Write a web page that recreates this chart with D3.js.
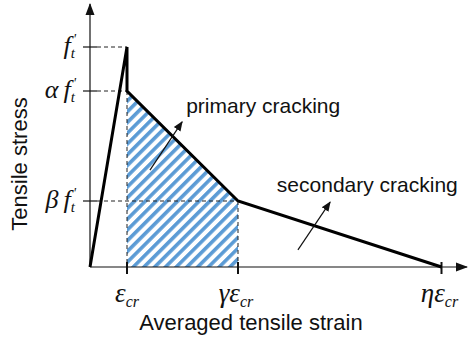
<!DOCTYPE html>
<html>
<head>
<meta charset="utf-8">
<script src="https://cdn.jsdelivr.net/npm/d3@7/dist/d3.min.js"></script>
<style>
  html, body { margin: 0; padding: 0; background: #fff; }
  svg { display: block; }
  .sans { font-family: "Liberation Sans", Arial, sans-serif; fill: #111; }
  .math { font-family: "Liberation Serif", "Times New Roman", serif; font-style: italic; fill: #111; }
</style>
</head>
<body>
<svg id="chart" width="468" height="340"></svg>
<script>
// Tension-softening curve: strain in multiples of eps_cr, stress in multiples of f_t'
const curveStrain = [0, 1, 1, 4, 9.5];
const curveStress = [0, 1, 0.8, 0.3, 0];

// Hatched (primary cracking) region
const hatchStrain = [1, 4, 4, 1];
const hatchStress = [0.8, 0.3, 0, 0];

// Marked strain levels on the horizontal axis
const strainTickValues = [1, 4, 9.5];
const strainTickLabels = [["", "ε", "cr"], ["γ", "ε", "cr"], ["η", "ε", "cr"]];

// Marked stress levels on the vertical axis
const stressTickValues = [1, 0.8, 0.3];
const stressTickLabels = [["", "f", "t"], ["α", "f", "t"], ["β", "f", "t"]];

// Guide lines: [strain, stress] of the reference points
const guidePoints = [[1, 1], [1, 0.8], [4, 0.3]];

// Annotation arrows in data units, with their captions
const arrowStart = [[1.62, 0.44], [5.62, 0.078]];
const arrowEnd = [[2.49, 0.66], [6.49, 0.295]];
const arrowTexts = ["primary cracking", "secondary cracking"];
const arrowTextPos = [[2.6, 0.70], [5.05, 0.34]];

const svg = d3.select("#chart");
const x = d3.scaleLinear().domain([0, 10]).range([90, 460]);
const y = d3.scaleLinear().domain([0, 1]).range([267, 47]);

const defs = svg.append("defs");
const pat = defs.append("pattern")
  .attr("id", "hatch")
  .attr("patternUnits", "userSpaceOnUse")
  .attr("width", 7.6).attr("height", 7.6)
  .attr("patternTransform", "rotate(45)");
pat.append("rect").attr("width", 7.6).attr("height", 7.6).attr("fill", "#fff");
pat.append("rect").attr("x", 0).attr("y", 0).attr("width", 3.6).attr("height", 7.6).attr("fill", "#5b9bd5");

const mk = defs.append("marker")
  .attr("id", "arrowHead")
  .attr("viewBox", "0 0 10 10")
  .attr("refX", 9).attr("refY", 5)
  .attr("markerWidth", 10).attr("markerHeight", 10)
  .attr("markerUnits", "userSpaceOnUse")
  .attr("orient", "auto");
mk.append("path").attr("d", "M0,1 L10,5 L0,9 Z").attr("fill", "#111");

const axHead = defs.append("marker")
  .attr("id", "axisHead")
  .attr("viewBox", "0 0 12 10")
  .attr("refX", 11).attr("refY", 5)
  .attr("markerWidth", 12).attr("markerHeight", 10)
  .attr("markerUnits", "userSpaceOnUse")
  .attr("orient", "auto");
axHead.append("path").attr("d", "M0,0.5 L12,5 L0,9.5 Z").attr("fill", "#111");

// hatched area
const hatchPts = hatchStrain.map((s, i) => [x(s), y(hatchStress[i])]);
svg.append("path")
  .attr("d", d3.line()(hatchPts) + "Z")
  .attr("fill", "url(#hatch)");

// axes
svg.append("line")
  .attr("x1", x(0)).attr("y1", y(0)).attr("x2", x(0)).attr("y2", 4)
  .attr("stroke", "#111").attr("stroke-width", 1.2)
  .attr("marker-end", "url(#axisHead)");
svg.append("line")
  .attr("x1", x(0)).attr("y1", y(0)).attr("x2", 467).attr("y2", y(0))
  .attr("stroke", "#111").attr("stroke-width", 1.2)
  .attr("marker-end", "url(#axisHead)");

// dashed guides
guidePoints.forEach(([s, t]) => {
  svg.append("line")
    .attr("x1", x(0) + 7).attr("y1", y(t)).attr("x2", x(s)).attr("y2", y(t))
    .attr("stroke", "#222").attr("stroke-width", 1).attr("stroke-dasharray", "4,3");
});
[[1, 0.8], [4, 0.3]].forEach(([s, t]) => {
  svg.append("line")
    .attr("x1", x(s)).attr("y1", y(t)).attr("x2", x(s)).attr("y2", y(0))
    .attr("stroke", "#222").attr("stroke-width", 1).attr("stroke-dasharray", "4,3");
});

// ticks
stressTickValues.forEach(v => {
  svg.append("line")
    .attr("x1", x(0) - 7).attr("x2", x(0) + 7)
    .attr("y1", y(v)).attr("y2", y(v))
    .attr("stroke", "#111").attr("stroke-width", 1.2);
});
strainTickValues.forEach(v => {
  svg.append("line")
    .attr("x1", x(v)).attr("x2", x(v))
    .attr("y1", y(0) - 5).attr("y2", y(0) + 7)
    .attr("stroke", "#111").attr("stroke-width", 2);
});

// curve
svg.append("path")
  .attr("d", d3.line()(curveStrain.map((s, i) => [x(s), y(curveStress[i])])))
  .attr("fill", "none").attr("stroke", "#000").attr("stroke-width", 3)
  .attr("stroke-linejoin", "miter");

// stress labels (right-aligned next to the axis, prime mark after the subscript)
stressTickValues.forEach((v, i) => {
  const [pre, main, sub] = stressTickLabels[i];
  const g = svg.append("g").attr("transform", `translate(${x(0) - 15},${y(v)})`);
  const t = g.append("text").attr("class", "math").attr("text-anchor", "end").attr("y", 7);
  if (pre) t.append("tspan").attr("font-size", 26).text(pre + "\u2009");
  t.append("tspan").attr("font-size", 26).text(main);
  t.append("tspan").attr("font-size", 15).attr("dy", 4).text(sub);
  g.append("text").attr("class", "math").attr("font-size", 14)
    .attr("x", -2).attr("y", -3).text("'");
});

// strain labels
strainTickValues.forEach((v, i) => {
  const [pre, main, sub] = strainTickLabels[i];
  const t = svg.append("text").attr("class", "math")
    .attr("x", x(v) + (pre ? -2 : 0)).attr("y", 302).attr("text-anchor", "middle");
  if (pre) t.append("tspan").attr("font-size", 27).text(pre);
  t.append("tspan").attr("font-size", 27).text(main);
  t.append("tspan").attr("font-size", 16).attr("dy", 5).text(sub);
});

// annotation arrows and captions
arrowStart.forEach((p, i) => {
  svg.append("line")
    .attr("x1", x(p[0])).attr("y1", y(p[1]))
    .attr("x2", x(arrowEnd[i][0])).attr("y2", y(arrowEnd[i][1]))
    .attr("stroke", "#111").attr("stroke-width", 1.2)
    .attr("marker-end", "url(#arrowHead)");
  svg.append("text").attr("class", "sans").attr("font-size", 21)
    .attr("x", x(arrowTextPos[i][0])).attr("y", y(arrowTextPos[i][1]))
    .text(arrowTexts[i]);
});

// axis titles
svg.append("text").attr("class", "sans").attr("font-size", 22)
  .attr("x", 251).attr("y", 330).attr("text-anchor", "middle")
  .text("Averaged tensile strain");
svg.append("text").attr("class", "sans").attr("font-size", 22)
  .attr("transform", "translate(27,164) rotate(-90)").attr("text-anchor", "middle")
  .text("Tensile stress");
</script>
</body>
</html>
